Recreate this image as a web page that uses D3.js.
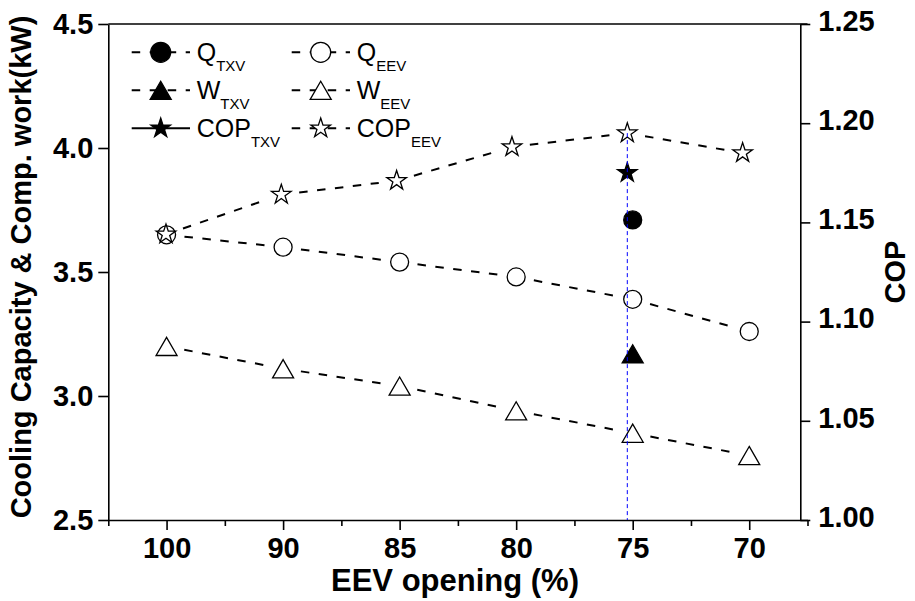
<!DOCTYPE html>
<html>
<head>
<meta charset="utf-8">
<script src="https://cdn.jsdelivr.net/npm/d3@7"></script>
<style>
  html, body { margin: 0; padding: 0; background: #fff; }
  svg { display: block; font-family: "Liberation Sans", Arial, sans-serif; }
  .axis text { font-weight: bold; font-size: 29px; fill: #000; }
  .axis path, .axis line { stroke: #000; stroke-width: 1.6; }
</style>
</head>
<body>
<svg id="chart" width="915" height="601"></svg>
<script>
// EEV opening steps (categorical x axis)
const openingLabels = ["100", "90", "85", "80", "75", "70"];

// Cooling capacity and compressor work with the EEV (kW)
const qEEV = [3.65, 3.60, 3.54, 3.48, 3.39, 3.26];
const wEEV = [3.20, 3.11, 3.04, 2.94, 2.85, 2.76];
// COP with the EEV
const copEEV = [1.144, 1.164, 1.171, 1.188, 1.195, 1.185];

// Single TXV reference point, at the 75 % opening position
const txvIndex = 4;
const qTXV = [3.71];
const wTXV = [3.17];
const copTXV = [1.175];

// Axis ticks
const leftTicks = [2.5, 3.0, 3.5, 4.0, 4.5];
const rightTicks = [1.00, 1.05, 1.10, 1.15, 1.20, 1.25];

// Legend entries
const legendNames = ["Q", "W", "COP", "Q", "W", "COP"];
const legendSubs = ["TXV", "TXV", "TXV", "EEV", "EEV", "EEV"];

const svg = d3.select("#chart");

const plotLeft = 108.3, plotTop = 24, plotBottom = 520, rightMain = 807.5, rightCop = 800.3;

// Capacity/work layer and COP layer have slightly different widths
const x = d3.scaleLinear().domain([-0.5, 5.5]).range([plotLeft, rightMain]);
const xc = d3.scaleLinear().domain([-0.5, 5.5]).range([plotLeft, rightCop]);
const yL = d3.scaleLinear().domain([2.5, 4.5]).range([plotBottom, plotTop]);
const yR = d3.scaleLinear().domain([1.0, 1.25]).range([plotBottom, plotTop]);

// ---- symbols ----
function circlePath(r) { return d3.symbol().type(d3.symbolCircle).size(Math.PI * r * r)(); }
function trianglePath(s) {
  const h = s * Math.sqrt(3) / 2;
  return `M0,${-h / 2}L${s / 2},${h / 2}L${-s / 2},${h / 2}Z`;
}
function starPath(R) { return d3.symbol().type(d3.symbolStar).size(R * R / 0.89081309152928522810)(); }
const symbolPaths = {
  circle: circlePath(9),
  triangle: trianglePath(21),
  star: starPath(10.3)
};

// ---- axes ----
const idx = d3.range(openingLabels.length);

// bottom axis: major labelled ticks + minor ticks
svg.append("g").attr("class", "axis").attr("transform", `translate(0,${plotBottom})`)
  .call(d3.axisBottom(x).tickValues(d3.range(-0.5, 5.6, 1)).tickSize(6).tickSizeOuter(0).tickFormat(""));
const xAxis = svg.append("g").attr("class", "axis").attr("transform", `translate(0,${plotBottom})`)
  .call(d3.axisBottom(x).tickValues(idx).tickSize(10).tickSizeOuter(0).tickPadding(7)
    .tickFormat(i => openingLabels[i]));
xAxis.select(".domain").remove();

// top border of the capacity layer
svg.append("line").attr("x1", plotLeft).attr("x2", rightMain).attr("y1", plotTop).attr("y2", plotTop)
  .attr("stroke", "#000").attr("stroke-width", 1.6);

// left axis
svg.append("g").attr("class", "axis").attr("transform", `translate(${plotLeft},0)`)
  .call(d3.axisLeft(yL).tickValues(leftTicks).tickSize(10).tickSizeOuter(0).tickPadding(5)
    .tickFormat(d3.format(".1f")));

// right axis (COP)
const rAxis = svg.append("g").attr("class", "axis").attr("transform", `translate(${rightCop},0)`)
  .call(d3.axisRight(yR).tickValues(rightTicks).tickSize(10).tickSizeOuter(0).tickPadding(8)
    .tickFormat(d3.format(".2f")));
rAxis.selectAll("text").attr("dy", "0.22em");

// axis titles
svg.append("text").attr("transform", "translate(31,267) rotate(-90)")
  .attr("text-anchor", "middle").attr("font-weight", "bold").attr("font-size", 29)
  .text("Cooling Capacity & Comp. work(kW)");
svg.append("text").attr("transform", "translate(905,272) rotate(-90)")
  .attr("text-anchor", "middle").attr("font-weight", "bold").attr("font-size", 29)
  .text("COP");
svg.append("text").attr("x", 455).attr("y", 591).attr("text-anchor", "middle")
  .attr("font-weight", "bold").attr("font-size", 31).text("EEV opening (%)");

// ---- dashed series lines, kept clear of the symbols ----
const gap = 18;
function drawSeries(values, xs, ys) {
  const pts = values.map((v, i) => [xs(i), ys(v)]);
  const pairs = d3.pairs(pts).map(([a, b]) => {
    const dx = b[0] - a[0], dy = b[1] - a[1], len = Math.hypot(dx, dy);
    const ux = dx / len, uy = dy / len;
    return [a[0] + ux * gap, a[1] + uy * gap, b[0] - ux * gap, b[1] - uy * gap];
  });
  svg.append("g").selectAll("line").data(pairs).join("line")
    .attr("x1", d => d[0]).attr("y1", d => d[1]).attr("x2", d => d[2]).attr("y2", d => d[3])
    .attr("stroke", "#000").attr("stroke-width", 2).attr("stroke-dasharray", "8.5,9.5");
}
drawSeries(copEEV, xc, yR);
drawSeries(qEEV, x, yL);
drawSeries(wEEV, x, yL);

// ---- markers ----
function drawMarkers(values, xs, ys, sym, filled, offset) {
  svg.append("g").selectAll("path").data(values).join("path")
    .attr("transform", (v, i) => `translate(${xs(i + offset)},${ys(v)})`)
    .attr("d", symbolPaths[sym])
    .attr("fill", filled ? "#000" : "#fff")
    .attr("stroke", "#000").attr("stroke-width", 1.3);
}
drawMarkers(qEEV, x, yL, "circle", false, 0);
drawMarkers(wEEV, x, yL, "triangle", false, 0);
drawMarkers(copEEV, xc, yR, "star", false, 0);
drawMarkers(qTXV, x, yL, "circle", true, txvIndex);
drawMarkers(wTXV, x, yL, "triangle", true, txvIndex);
drawMarkers(copTXV, xc, yR, "star", true, txvIndex);

// drop line at the TXV operating point
svg.append("line")
  .attr("x1", xc(txvIndex)).attr("x2", xc(txvIndex))
  .attr("y1", yR(copEEV[txvIndex])).attr("y2", yR(1.0))
  .attr("stroke", "#0000ff").attr("stroke-width", 1).attr("stroke-dasharray", "4,3");

// ---- legend ----
const legendSyms = ["circle", "triangle", "star", "circle", "triangle", "star"];
const legendFilled = [true, true, true, false, false, false];
const legendSolid = [false, false, true, false, false, false];
const leg = svg.append("g");
legendNames.forEach((name, i) => {
  const col = Math.floor(i / 3), row = i % 3;
  const x0 = 131.7 + col * 160, cy = 52.3 + row * 38;
  const g = leg.append("g");
  g.append("line").attr("x1", x0).attr("x2", x0 + 58.3).attr("y1", cy).attr("y2", cy)
    .attr("stroke", "#000").attr("stroke-width", 2)
    .attr("stroke-dasharray", legendSolid[i] ? null : "8.5,9.5");
  g.append("path").attr("transform", `translate(${x0 + 29},${cy})`)
    .attr("d", legendSyms[i] === "circle" ? circlePath(10) : symbolPaths[legendSyms[i]])
    .attr("fill", legendFilled[i] ? "#000" : "#fff")
    .attr("stroke", "#000").attr("stroke-width", 1.3);
  const t = g.append("text").attr("x", x0 + 65).attr("y", cy + 8.5).attr("font-size", 25);
  t.append("tspan").text(name);
  t.append("tspan").attr("font-size", 15).attr("dy", 10).text(legendSubs[i]);
});
</script>
</body>
</html>
